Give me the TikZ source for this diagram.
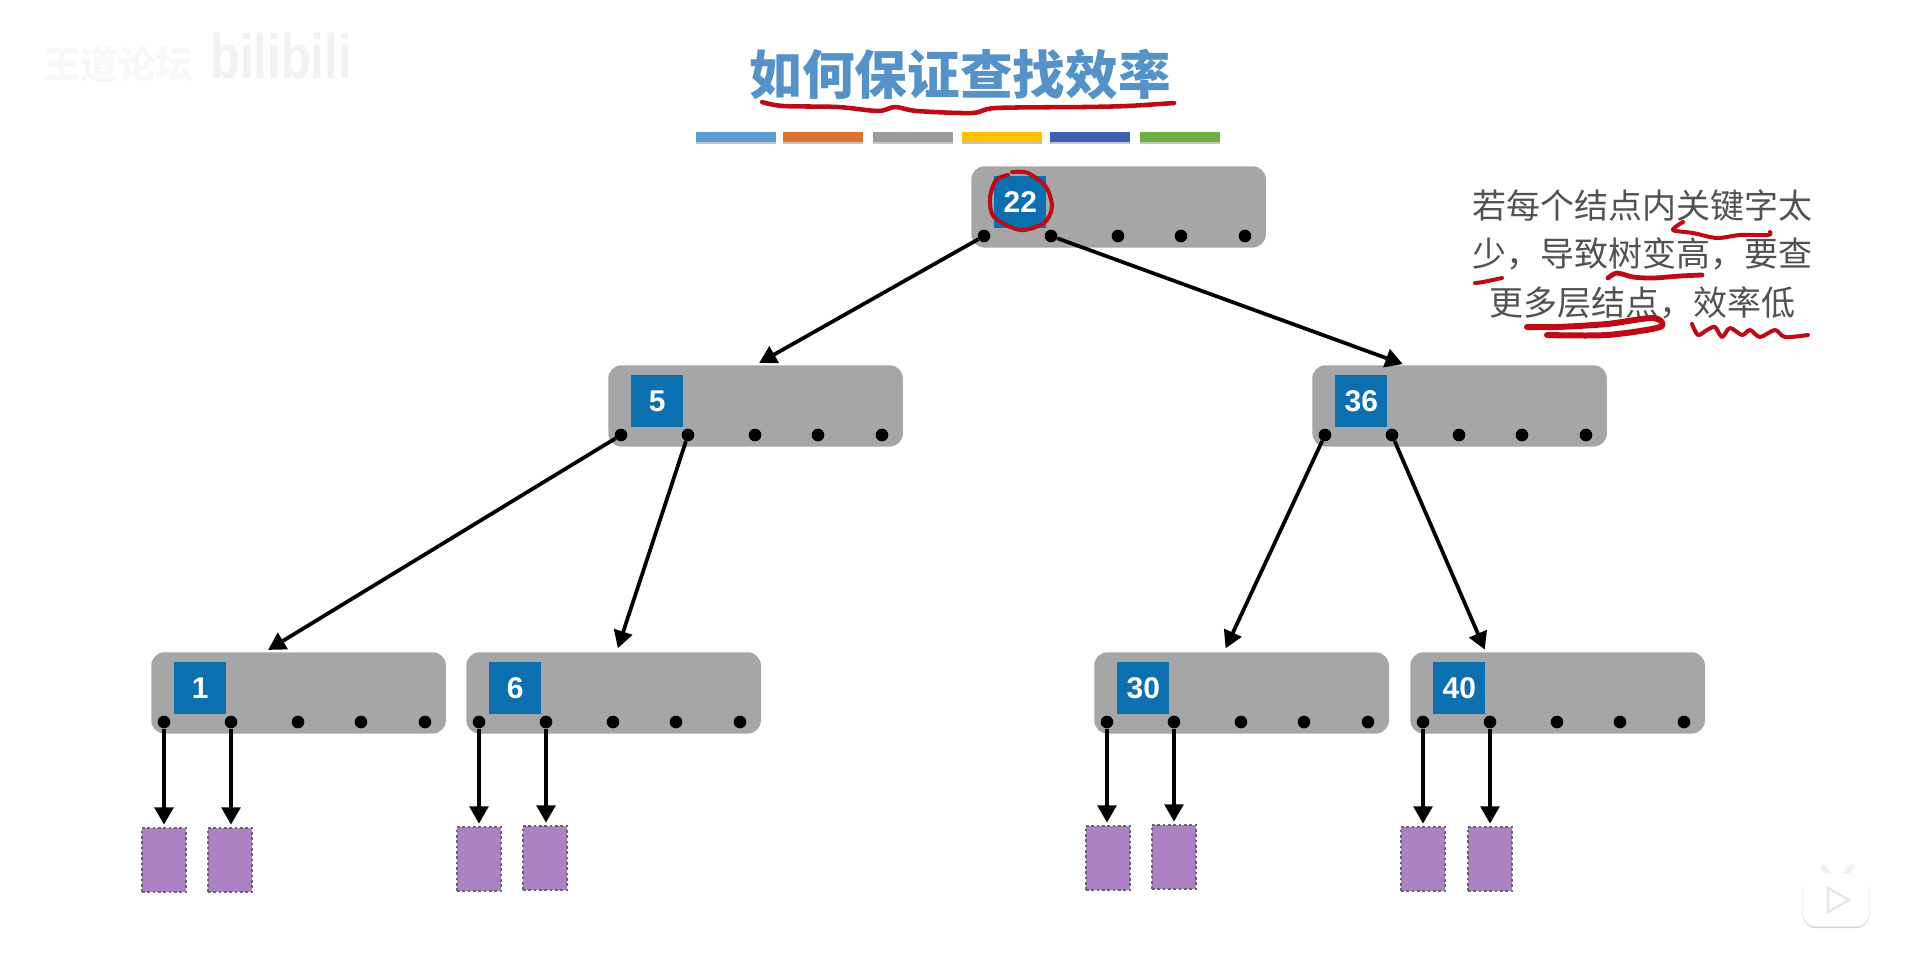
\documentclass[tikz,border=0pt]{standalone}
\usepackage{fontspec}
\setsansfont{Liberation Sans}
\newfontfamily\cjk{Noto Sans CJK SC}
\usetikzlibrary{arrows.meta,calc,shadows}

\definecolor{titleblue}{HTML}{5492C8}
\definecolor{boxgray}{HTML}{A6A6A6}
\definecolor{keyblue}{HTML}{0B6FB0}
\definecolor{leafpurple}{HTML}{AC82C4}
\definecolor{inkred}{HTML}{BE0A14}

\newcommand{\btnode}[4]{
  \node (#1) [boxnode,anchor=north west] at (#2,#3) {};
  \node (k#1) [keynode,anchor=north west] at ($(#1.north west)+(23,10)$) {#4};
  \foreach \slot/\off in {a/13,b/80,c/147,d/210,e/274}
    \node (#1\slot) [slotdot] at ($(#1.north west)+(\off,70)$) {};
}

\begin{document}
\begin{tikzpicture} [
  x=0.75pt,y=-0.75pt,
  boxnode/.style={fill=boxgray,rounded corners=10pt,minimum width=221pt,minimum height=61pt,inner sep=0},
  keynode/.style={fill=keyblue,text=white,minimum size=39pt,inner sep=0,font=\sffamily\bfseries\fontsize{22.5}{22.5}\selectfont},
  slotdot/.style={circle,fill=black,minimum size=9.5pt,inner sep=0},
  leafnode/.style={fill=leafpurple,draw=black!60,line width=2pt,dash pattern=on 2pt off 2pt,minimum width=33pt,minimum height=48pt,inner sep=0},
  barnode/.style={minimum width=60pt,minimum height=7pt,inner sep=0,drop shadow={shadow xshift=0pt,shadow yshift=-1.5pt,opacity=.45}},
  link/.style={-{Triangle[length=13pt,width=14pt]},line width=2.8pt,black},
  inkline/.style={draw=inkred,line width=3pt,line cap=round,line join=round}
  ]
  \useasboundingbox (0,0) rectangle (1911,976);
  \fill[white] (0,0) rectangle (1911,976);

  % watermark and player icon
  \node (mark) [text=black!3,font=\cjk\bfseries\fontsize{28}{28}\selectfont] at (118,64) {王道论坛};
  \node (bili) [text=black!5,xscale=.78,font=\sffamily\bfseries\fontsize{47}{47}\selectfont] at (281,56) {bilibili};
  \draw[line width=4pt,line cap=round,black!6] (1823,867) -- (1829,875) (1851,867) -- (1845,875);
  \node (tv) [fill=white,rounded corners=10pt,minimum width=50pt,minimum height=40pt,inner sep=0,
    drop shadow={shadow xshift=0pt,shadow yshift=-1pt,opacity=.35}] at (1836,900) {};
  \draw[black!10,line width=1.5pt,line join=round,fill=white] (1828,888) -- (1849,900) -- (1828,912) -- cycle;

  % title
  \node (title) [text=titleblue,font=\cjk\bfseries\fontsize{39.5}{39.5}\selectfont] at (960,75) {如何保证查找效率};
  \foreach \i/\xc/\col in {1/736/5B9BD5,2/823/E0712C,3/913/9C9C9C,4/1002/FFC000,5/1090/3D62B2,6/1180/6AAF3F} {
    \definecolor{barcol}{HTML}{\col}
    \node (bar\i) [barnode,fill=barcol] at (\xc,137) {};
  }

  % tree nodes
  \btnode{n0}{971}{166}{22}
  \btnode{n1}{608}{365}{5}
  \btnode{n2}{1312}{365}{36}
  \btnode{n3}{151}{652}{1}
  \btnode{n4}{466}{652}{6}
  \btnode{n5}{1094}{652}{30}
  \btnode{n6}{1410}{652}{40}

  % leaves
  \foreach \i/\xc/\yc in {1/164/860,2/230/860,3/479/859,4/545/858,5/1108/858,6/1174/857,7/1423/859,8/1490/859}
    \node (l\i) [leafnode] at (\xc,\yc) {};

  % links
  \draw[link,shorten >=3pt] (n0a) -- ($(n1.north west)!.5!(n1.north east)$);
  \draw[link,shorten >=2pt] (n0b) -- ($(n2.north west)!.316!(n2.north east)$);
  \draw[link,shorten >=3pt] (n1a) -- ($(n3.north west)!.385!(n3.north east)$);
  \draw[link,shorten >=3pt] (n1b) -- ($(n4.north west)!.51!(n4.north east)$);
  \draw[link,shorten >=3pt] (n2a) -- ($(n5.north west)!.44!(n5.north east)$);
  \draw[link,shorten >=2pt] (n2b) -- ($(n6.north west)!.257!(n6.north east)$);
  \draw[link,shorten >=1.5pt] (n3a) -- (n3a |- l1.north);
  \draw[link,shorten >=1.5pt] (n3b) -- (n3b |- l2.north);
  \draw[link,shorten >=1.5pt] (n4a) -- (n4a |- l3.north);
  \draw[link,shorten >=1.5pt] (n4b) -- (n4b |- l4.north);
  \draw[link,shorten >=1.5pt] (n5a) -- (n5a |- l5.north);
  \draw[link,shorten >=1.5pt] (n5b) -- (n5b |- l6.north);
  \draw[link,shorten >=1.5pt] (n6a) -- (n6a |- l7.north);
  \draw[link,shorten >=1.5pt] (n6b) -- (n6b |- l8.north);

  % side note
  \node (note) [align=center,text=black!68,font=\cjk\fontsize{25.5}{36.4}\selectfont] at (1642,254)
    {若每个结点内关键字太\\少，导致树变高，要查\\更多层结点，效率低};

  % red pen strokes
  \draw[inkline,line width=3.4pt] plot[smooth] coordinates {(762,102) (783,106) (838,107) (878,111) (895,107) (917,111) (972,113) (996,108) (1083,107) (1127,106) (1174,103)};
  \draw[inkline] plot[smooth] coordinates {(1008,175) (996,180) (990,198) (994,217) (1020,230) (1044,223) (1052,207) (1046,187) (1028,173) (1012,172)};
  \draw[inkline] plot[smooth] coordinates {(1683,222) (1673,230) (1693,233) (1717,238) (1740,235) (1768,235) (1770,232)};
  \draw[inkline] plot[smooth] coordinates {(1475,283) (1483,282) (1502,278)};
  \draw[inkline,line width=3.6pt] plot[smooth] coordinates {(1608,278) (1617,273) (1633,277) (1653,278) (1680,276) (1702,275)};
  \draw[inkline,line width=4.5pt] plot[smooth] coordinates {(1527,327) (1557,327) (1607,324) (1653,318) (1660,327) (1607,335) (1547,335)};
  \draw[inkline] plot[smooth] coordinates {(1692,324) (1698,335) (1707,330) (1715,327) (1722,337) (1730,328) (1742,335) (1750,330) (1760,337) (1775,330) (1785,337) (1808,335)};
\end{tikzpicture}
\end{document}
